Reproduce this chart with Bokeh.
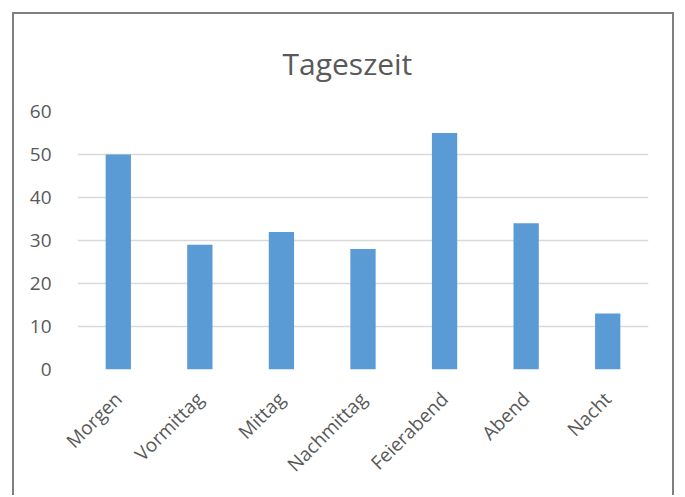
import math
from bokeh.plotting import figure
from bokeh.models import ColumnDataSource, Range1d, FactorRange, SingleIntervalTicker
from bokeh.embed import file_html
from bokeh.resources import INLINE

categories = ["Morgen", "Vormittag", "Mittag", "Nachmittag", "Feierabend", "Abend", "Nacht"]
values = [50, 29, 32, 28, 55, 34, 13]
title_text = "Tageszeit"

FONT = "Open Sans"
TXT = "#595959"

src = ColumnDataSource(dict(cat=categories, val=values))

p = figure(
    x_range=FactorRange(*categories, range_padding=0.0),
    y_range=Range1d(0, 60),
    width=662, height=483,
    output_backend="svg", toolbar_location=None,
    min_border_left=63, min_border_right=28, min_border_top=97, min_border_bottom=128,
)
p.styles = {
    "border-top": "2px solid #7f7f7f",
    "border-left": "2px solid #7f7f7f",
    "border-right": "2px solid #7f7f7f",
    "margin": "12px",
}

p.vbar(x="cat", top="val", width=0.31, source=src, color="#5B9BD5", line_color=None)

p.title.text = title_text
p.title.text_font = FONT
p.title.text_font_size = "30px"
p.title.text_font_style = "normal"
p.title.text_color = TXT
p.title.align = "left"
p.title.offset = 205
p.title.standoff = 52
p.title.vertical_align = "top"

p.outline_line_color = None
p.xgrid.grid_line_color = None
p.ygrid.grid_line_color = "#D9D9D9"
p.ygrid.grid_line_width = 1.5
p.yaxis.ticker = SingleIntervalTicker(interval=10)

for ax in (p.xaxis[0], p.yaxis[0]):
    ax.axis_line_color = None
    ax.major_tick_line_color = None
    ax.minor_tick_line_color = None
    ax.major_tick_out = 0
    ax.major_tick_in = 0
    ax.major_label_text_font = FONT
    ax.major_label_text_font_size = "19px"
    ax.major_label_text_color = TXT

p.yaxis.major_label_standoff = 22
p.xaxis.major_label_standoff = 26
p.xaxis.major_label_orientation = math.pi / 4

open("out.html", "w").write(file_html(p, INLINE))
